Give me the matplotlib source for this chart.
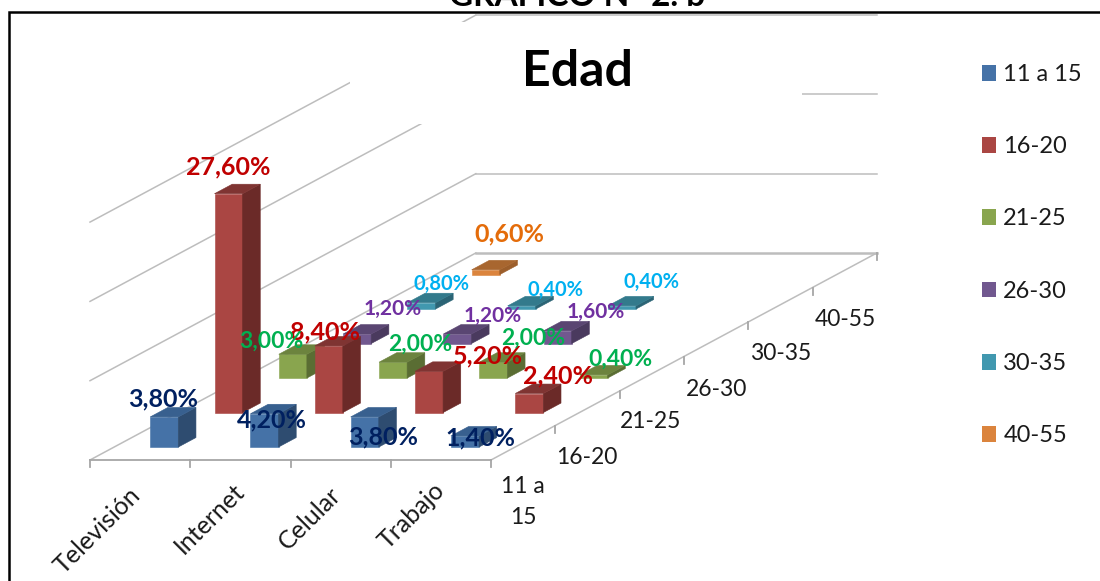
import matplotlib
matplotlib.use("Agg")
import matplotlib.pyplot as plt
from matplotlib.patches import Polygon, Patch, Rectangle

plt.rcParams['font.family'] = ['Lato', 'DejaVu Sans']

# ---- data ----
categories = ['Televisión', 'Internet', 'Celular', 'Trabajo']
series_names = ['11 a 15', '16-20', '21-25', '26-30', '30-35', '40-55']
depth_labels = ['11 a\n15', '16-20', '21-25', '26-30', '30-35', '40-55']
v_11_15 = [3.8, 4.2, 3.8, 1.4]
v_16_20 = [27.6, 8.4, 5.2, 2.4]
v_21_25 = [3.0, 2.0, 2.0, 0.4]
v_26_30 = [1.2, 1.2, 1.6, None]
v_30_35 = [0.8, 0.4, 0.4, None]
v_40_55 = [0.6, None, None, None]
all_values = [v_11_15, v_16_20, v_21_25, v_26_30, v_30_35, v_40_55]
gridlines = [0, 10, 20, 30]

# ---- styles ----
front = ['#4572A7', '#AA4643', '#89A54E', '#71588F', '#4198AF', '#DB843D']
side = ['#2E4C70', '#6B2A28', '#5A6D33', '#4A3A5E', '#2B6475', '#9C5E2B']
top = ['#38608F', '#7F3432', '#6C833E', '#5A4672', '#337A8C', '#A8662F']
label_col = ['#002060', '#C00000', '#00B050', '#7030A0', '#00B0F0', '#E46C0A']
label_size = [18, 18, 16.5, 15, 14.5, 18]
# manual data-label placement (pixel centres), same layout as the source chart
label_pos = [
    [(163, 399), (272, 420), (383, 437), (480, 438)],
    [(228, 167), (325, 332), (488, 356), (558, 376)],
    [(271, 341), (420, 344), (533, 338), (620, 359)],
    [(393, 309), (493, 316), (596, 312), None],
    [(442, 284), (555, 290), (652, 282), None],
    [(509, 234), None, None, None],
]
depth_pos = [(523, 502), (587, 457), (651, 422), (717, 389), (781, 354), (845, 320)]
cat_pos = [(97.5, 531), (210, 519), (310, 518), (412, 516)]

# ---- projection geometry ----
X0, Y0 = 90.0, 460.0
DX_CAT = 100.25
DX_S, DY_S = 64.3, 34.5
PX_PER_UNIT = 7.93
WALL = '#BDBDBD'
AXIS = '#A6A6A6'
INK = '#1A1A1A'


def pr(c, s, v=0.0):
    return (X0 + DX_CAT * c + DX_S * s, Y0 - DY_S * s - PX_PER_UNIT * v)


fig = plt.figure(figsize=(11, 5.81), dpi=100)
ax = fig.add_axes([0, 0, 1, 1])
ax.set_xlim(0, 1100)
ax.set_ylim(581, 0)
ax.axis('off')
nc, ns = len(categories), len(series_names)

# walls
for g in gridlines:
    lw = 1.8 if g == 0 else 1.1
    if g > 0:
        ax.plot(*zip(pr(0, 0, g), pr(0, ns, g)), color=WALL, lw=1.1, zorder=1)
    ax.plot(*zip(pr(0, ns, g), pr(nc, ns, g)), color=WALL, lw=lw, zorder=1)
# title box hides part of the walls
ax.add_patch(Rectangle((350, 22), 452, 102, fc='white', ec='none', zorder=2))

# floor
ax.plot(*zip(pr(0, 0), pr(0, ns)), color=WALL, lw=1.1, zorder=3)
ax.plot(*zip(pr(nc, 0), pr(nc, ns)), color=WALL, lw=1.1, zorder=3)
ax.plot(*zip(pr(0, 0), pr(nc, 0)), color=AXIS, lw=1.3, zorder=3)
for c in range(nc + 1):
    x, y = pr(c, 0)
    ax.plot([x, x], [y, y + 6.5], color=AXIS, lw=1.3, zorder=3)
for s in range(1, ns + 1):
    x, y = pr(nc, s)
    ax.plot([x, x], [y, y + 7], color=AXIS, lw=1.3, zorder=3)

# bars, back to front
W0, W1, D0, D1 = 0.36, 0.64, 0.375, 0.65
z = 4
for s in range(ns - 1, -1, -1):
    for c in range(nc):
        v = all_values[s][c]
        if v is None:
            continue
        a, b = c + W0, c + W1
        p, q = s + D0, s + D1
        faces = [
            ([pr(a, p), pr(b, p), pr(b, p, v), pr(a, p, v)], front[s]),
            ([pr(b, p), pr(b, q), pr(b, q, v), pr(b, p, v)], side[s]),
            ([pr(a, p, v), pr(b, p, v), pr(b, q, v), pr(a, q, v)], top[s]),
        ]
        for pts, col in faces:
            ax.add_patch(Polygon(pts, closed=True, fc=col, ec=col, lw=0.4, zorder=z))
        z += 1

# data labels
for s in range(ns):
    for c in range(nc):
        v = all_values[s][c]
        if v is None:
            continue
        x, y = label_pos[s][c]
        ax.text(x, y, f'{v:.2f}%'.replace('.', ','), color=label_col[s], fontsize=label_size[s],
                fontweight='bold', ha='center', va='center', zorder=100)

# axis labels
for name, (x, y) in zip(categories, cat_pos):
    ax.text(x, y, name, rotation=45, ha='center', va='center', fontsize=18, color=INK, zorder=100)
for name, (x, y) in zip(depth_labels, depth_pos):
    ax.text(x, y, name, ha='center', va='center', fontsize=16.5, color=INK, linespacing=1.6, zorder=100)

# titles
ax.text(577, 72, 'Edad', ha='center', va='center', fontsize=36, fontweight='bold', color='black', zorder=100)
ax.text(577, 6, 'GRÁFICO N° 2. b', ha='center', va='baseline', fontsize=24, fontweight='bold', color='black', zorder=100)

# frame
ax.plot([9, 9, 1100], [581, 12, 12], color='black', lw=1.8, zorder=101, solid_joinstyle='miter')

# legend
handles = [Patch(fc=col, ec='none', label=n) for col, n in zip(front, series_names)]
ax.legend(handles=handles, loc='upper left', bbox_to_anchor=(982, 64), bbox_transform=ax.transData,
          frameon=False, fontsize=17, ncols=1, borderpad=0, borderaxespad=0, handlelength=0.6,
          handleheight=0.65, handletextpad=0.3, labelspacing=2.17, labelcolor=INK)

fig.savefig('out.png', dpi=100)
